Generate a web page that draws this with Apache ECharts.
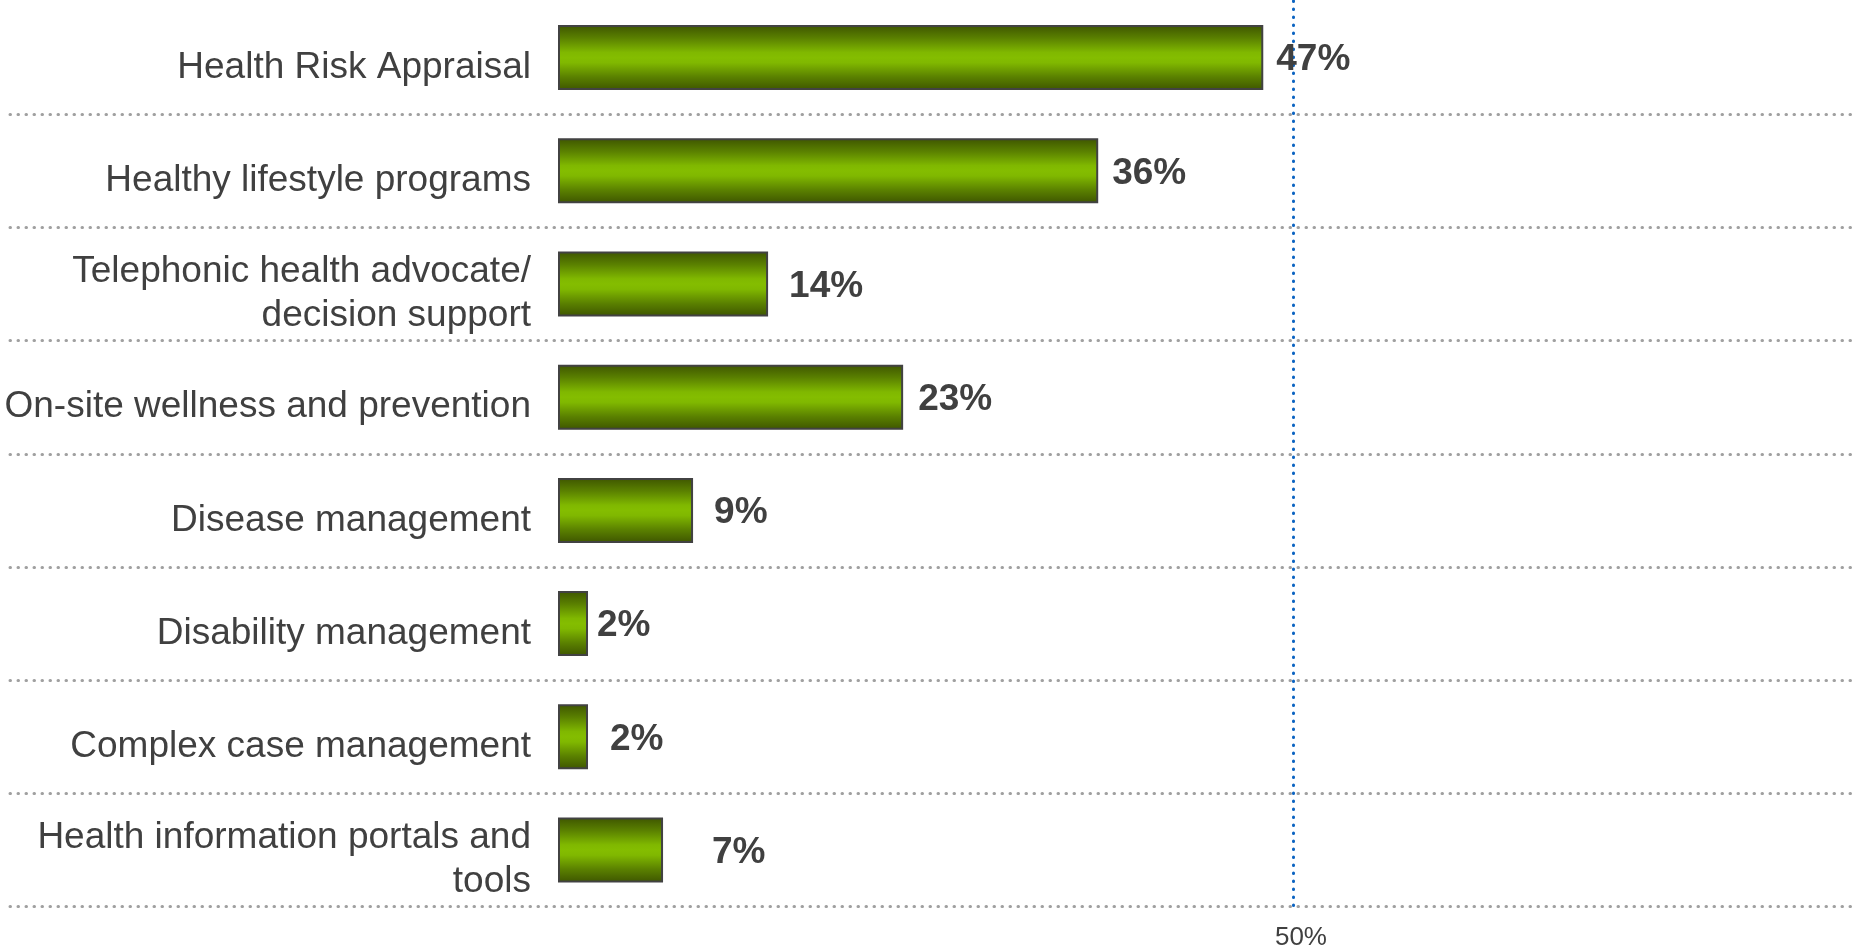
<!DOCTYPE html>
<html>
<head>
<meta charset="utf-8">
<script src="https://cdn.jsdelivr.net/npm/echarts@6/dist/echarts.min.js"></script>
<style>
  html, body { margin: 0; padding: 0; background: #ffffff; }
  #chart { width: 1856px; height: 951px; }
</style>
</head>
<body>
<div id="chart"></div>
<script>
// Wellness programme offerings, share of respondents (%)
const categories = [
  'Health Risk Appraisal',
  'Healthy lifestyle programs',
  'Telephonic health advocate/\ndecision support',
  'On-site wellness and prevention',
  'Disease management',
  'Disability management',
  'Complex case management',
  'Health information portals and\ntools'
];
const shares = [47, 36, 14, 23, 9, 2, 2, 7];
const benchmarkValue = 50;
const benchmarkLabel = '50%';

// gap between each bar end and its value label (px)
const labelGaps = [13, 14, 21, 15, 21, 9, 22, 49];

const TEXT = '#404040';
const FONT = '"Liberation Sans", Arial, sans-serif';
const ROWS_TOP = 1;
const ROWS_HEIGHT = 905.6;

const chart = echarts.init(document.getElementById('chart'), null, { renderer: 'canvas' });

const barFill = new echarts.graphic.LinearGradient(0, 0, 0, 1, [
  { offset: 0, color: '#3e5500' },
  { offset: 0.2, color: '#5a8000' },
  { offset: 0.42, color: '#80b800' },
  { offset: 0.5, color: '#84bd00' },
  { offset: 0.58, color: '#80b800' },
  { offset: 0.8, color: '#5a8000' },
  { offset: 1, color: '#3e5500' }
]);

const dotted = (color) => ({ color: color, type: [0.5, 7.5], width: 3, cap: 'round' });

const bareCategoryAxis = (gridIndex) => ({
  type: 'category', gridIndex: gridIndex, data: categories, inverse: true,
  axisLine: { show: false },
  axisTick: { show: false },
  axisLabel: { show: false },
  splitLine: { show: false }
});

chart.setOption({
  animation: false,
  backgroundColor: '#ffffff',
  grid: [
    // bars
    { left: 558, right: 0, top: ROWS_TOP, height: ROWS_HEIGHT },
    // full-width row separators
    { left: 10, right: 0, top: ROWS_TOP, height: ROWS_HEIGHT },
    // category labels, sitting slightly low in each row
    { left: 558, right: 0, top: ROWS_TOP + 10, height: ROWS_HEIGHT }
  ],
  xAxis: [
    { type: 'value', gridIndex: 0, min: 0, max: 86.3, show: false },
    {
      // benchmark axis carrying the dotted 50% line
      type: 'value', gridIndex: 0, min: 0, max: 88.1, interval: 50,
      position: 'bottom',
      axisLine: { show: false },
      axisTick: { show: false },
      axisLabel: {
        margin: 18,
        color: TEXT,
        fontFamily: FONT,
        fontSize: 26,
        padding: [0, 0, 0, 16],
        formatter: v => (v === benchmarkValue ? benchmarkLabel : '')
      },
      splitLine: {
        show: true,
        showMinLine: false,
        showMaxLine: false,
        lineStyle: dotted('#0b63c1')
      }
    },
    { type: 'value', gridIndex: 1, min: 0, max: 1, show: false },
    { type: 'value', gridIndex: 2, min: 0, max: 1, show: false }
  ],
  yAxis: [
    bareCategoryAxis(0),
    Object.assign(bareCategoryAxis(1), {
      splitLine: {
        show: true,
        showMinLine: false,
        lineStyle: dotted('#a0a0a0')
      }
    }),
    Object.assign(bareCategoryAxis(2), {
      axisLabel: {
        show: true,
        margin: 27,
        color: TEXT,
        fontFamily: FONT,
        fontSize: 37,
        lineHeight: 44,
        align: 'right'
      }
    })
  ],
  series: [
    {
      type: 'bar',
      xAxisIndex: 0,
      yAxisIndex: 0,
      barWidth: 65,
      data: shares.map((v, i) => ({
        value: v,
        label: { distance: labelGaps[i] }
      })),
      itemStyle: {
        color: barFill,
        borderColor: '#424242',
        borderWidth: 2
      },
      label: {
        show: true,
        position: 'right',
        offset: [0, 2.5],
        color: TEXT,
        fontFamily: FONT,
        fontWeight: 'bold',
        fontSize: 37,
        formatter: p => p.value + '%'
      },
      z: 3
    }
  ]
});
</script>
</body>
</html>
